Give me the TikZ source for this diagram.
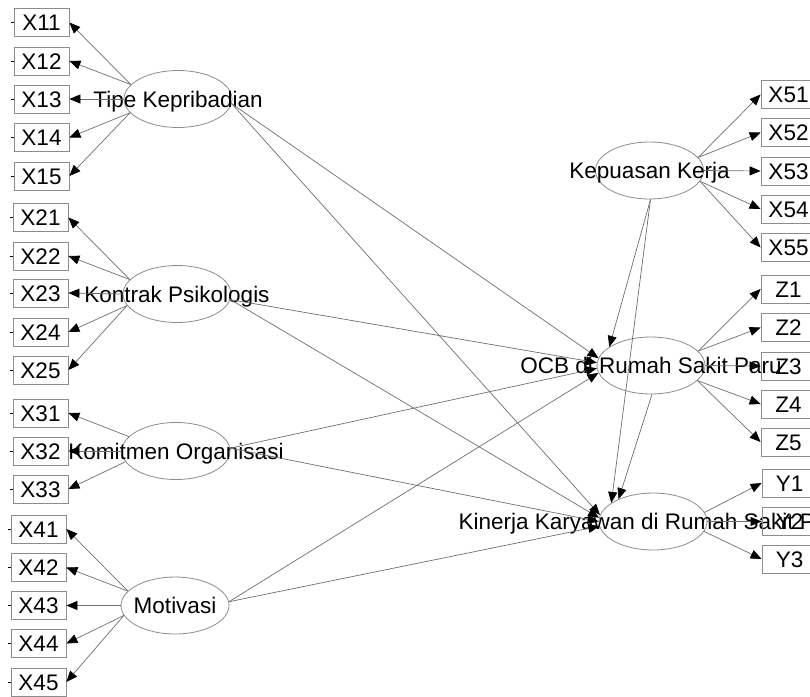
\documentclass[tikz,border=0pt]{standalone}
\usepackage{fontspec}
\setmainfont{Liberation Sans}
\usetikzlibrary{arrows.meta,shapes.geometric}
\definecolor{boxgray}{HTML}{8C8C8C}
\definecolor{linegray}{HTML}{6E6E6E}

\begin{document}
\begin{tikzpicture}[
    x=1pt, y=-1pt,
    every node/.style={font=\fontsize{22.5}{27}\selectfont, text height=16.1pt, text depth=0pt, inner sep=0},
    ind/.style={rectangle, draw=boxgray, line width=0.8pt, minimum width=55pt, minimum height=28pt},
    lat/.style={ellipse, draw=boxgray, line width=0.8pt, minimum width=108pt, minimum height=57pt},
    load/.style={draw=linegray, line width=0.7pt, -{Triangle[length=11pt,width=9pt,color=black]}},
    stub/.style={draw=black, line width=0.8pt}]
\clip (0,0) rectangle (810,696);

% latent variables
\node[lat] (tipe)    at (178,99)    {\makebox[0pt]{Tipe Kepribadian}};
\node[lat] (kontrak) at (177,294)   {\makebox[0pt]{Kontrak Psikologis}};
\node[lat] (komit)   at (176,451)   {\makebox[0pt]{Komitmen Organisasi}};
\node[lat] (motiv)   at (175,605.5) {\makebox[0pt]{Motivasi}};
\node[lat] (puas)    at (649.5,170.5) {\makebox[0pt]{Kepuasan Kerja}};
\node[lat] (ocb)     at (651,365.5) {\makebox[0pt]{OCB di Rumah Sakit Paru}};
\node[lat] (kinerja) at (653,521.5) {\makebox[0pt]{Kinerja Karyawan di Rumah Sakit Paru}};

% indicators, left
\foreach \n/\y in {11/22.5,12/61,13/99,14/137.5,15/176}{
  \node[ind] (x\n) at (41.5,\y) {X\n};
  \draw[stub] (x\n.west) -- ++(-3,0);}
\foreach \n/\y in {21/217.5,22/256,23/293,24/332,25/370,31/413,32/451,33/489}{
  \node[ind] (x\n) at (40.5,\y) {X\n};
  \draw[stub] (x\n.west) -- ++(-3,0);}
\foreach \n/\y in {41/529,42/567.5,43/605.5,44/643.5,45/682}{
  \node[ind] (x\n) at (38.5,\y) {X\n};
  \draw[stub] (x\n.west) -- ++(-3,0);}

% indicators, right
\foreach \n/\y in {51/94.5,52/132.5,53/171,54/209,55/247.5}
  \node[ind] (x\n) at (788.5,\y) {X\n};
\foreach \n/\y in {1/289,2/327.5,3/366,4/404,5/442}
  \node[ind] (z\n) at (788.5,\y) {Z\n};
\foreach \n/\y in {1/483,2/521.5,3/559}
  \node[ind] (y\n) at (789.5,\y) {Y\n};

% loadings
\foreach \n/\a in {11/163,12/163,13/180,14/196,15/196}
  \draw[load] (tipe.\a) -- (x\n.east);
\foreach \n/\a in {21/163,22/163,23/180,24/193,25/193}
  \draw[load] (kontrak.\a) -- (x\n.east);
\foreach \n/\a in {31/163,32/180,33/192}
  \draw[load] (komit.\a) -- (x\n.east);
\foreach \n/\a in {41/163,42/163,43/180,44/191,45/191}
  \draw[load] (motiv.\a) -- (x\n.east);
\foreach \n/\a in {51/15,52/15,53/0,54/348,55/348}
  \draw[load] (puas.\a) -- (x\n.west);
\foreach \n/\a in {1/17,2/17,3/0,4/342,5/342}
  \draw[load] (ocb.\a) -- (z\n.west);
\foreach \n/\a in {1/10,2/0,3/349}
  \draw[load] (kinerja.\a) -- (y\n.west);

% structural paths
\draw[load] (tipe.-5)    -- (ocb.172);
\draw[load] (kontrak.-6) -- (ocb.177);
\draw[load] (komit.3)    -- (ocb.183);
\draw[load] (motiv.4)    -- (ocb.188);
\draw[load] (puas.272)   -- (ocb.156);
\draw[load] (tipe.-5)    -- (kinerja.173);
\draw[load] (kontrak.-6) -- (kinerja.176);
\draw[load] (komit.3)    -- (kinerja.180);
\draw[load] (motiv.4)    -- (kinerja.185);
\draw[load] (puas.272)   -- (kinerja.156);
\draw[load] (ocb.272)    -- (kinerja.147);

\end{tikzpicture}
\end{document}
